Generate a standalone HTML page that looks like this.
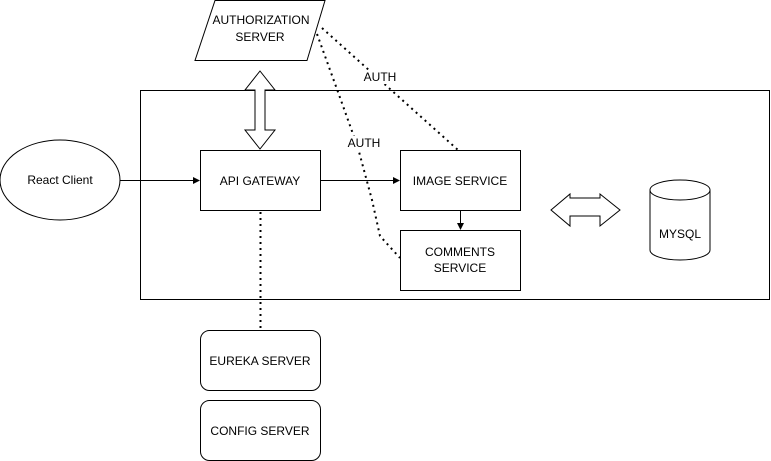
<!DOCTYPE html>
<html><head><style>body{margin:0;background:#fff}svg{display:block}text{font-family:"Liberation Sans",Arial,sans-serif;font-size:12px;fill:#000}</style></head>
<body>
<svg width="771" height="461" viewBox="0 0 771 461">
<g fill="none" stroke="#000" stroke-width="1">
<rect x="140.5" y="90.5" width="629" height="209" fill="#fff"/>
<polygon points="215,0.5 325,0.5 307,60.5 195,60.5" fill="#fff"/>
<polygon points="260,71 275,90 265,90 265,130 275,130 260,149 245,130 255,130 255,90 245,90" fill="#fff"/>
<polygon points="551,210 570,194 570,198 600,198 600,194 620,210 600,226 600,216 570,216 570,226" fill="#fff"/>
<ellipse cx="60" cy="180" rx="60" ry="40" fill="#fff"/>
<rect x="200.5" y="150.5" width="120" height="60" fill="#fff"/>
<rect x="400.5" y="150.5" width="120" height="60" fill="#fff"/>
<rect x="400.5" y="230.5" width="120" height="60" fill="#fff"/>
<rect x="200.5" y="330.5" width="120" height="60" rx="9" fill="#fff"/>
<rect x="200.5" y="400.5" width="120" height="60" rx="9" fill="#fff"/>
<path d="M650,190 L650,250 A30,10 0 0 0 710,250 L710,190 A30,10 0 0 0 650,190 A30,10 0 0 0 710,190" fill="#fff"/>
<line x1="120" y1="180.5" x2="193" y2="180.5"/>
<line x1="320" y1="180.5" x2="393" y2="180.5"/>
<line x1="460.5" y1="210" x2="460.5" y2="223"/>
<g stroke-dasharray="2,4" stroke-width="2">
<line x1="260.5" y1="212" x2="260.5" y2="330"/>
<line x1="322" y1="28" x2="458" y2="150"/>
<polyline points="317,34 338,92 358,148 372,200 380,236 400,258"/>
</g>
</g>
<g fill="#000">
<polygon points="200,180.5 193,177 193,184"/>
<polygon points="400,180.5 393,177 393,184"/>
<polygon points="460.5,230 457,223 464,223"/>
</g>
<rect x="364" y="70" width="32" height="14" fill="#fff"/>
<rect x="348" y="136" width="32" height="14" fill="#fff"/>
<text x="380" y="81" text-anchor="middle" font-size="11">AUTH</text>
<text x="364" y="147" text-anchor="middle" font-size="11">AUTH</text>
<g text-anchor="middle">
<text x="261" y="24">AUTHORIZATION</text>
<text x="260" y="41">SERVER</text>
<text x="60" y="184">React Client</text>
<text x="260" y="185">API GATEWAY</text>
<text x="460" y="185">IMAGE SERVICE</text>
<text x="460" y="256">COMMENTS</text>
<text x="460" y="272">SERVICE</text>
<text x="260" y="365">EUREKA SERVER</text>
<text x="260" y="435">CONFIG SERVER</text>
<text x="680" y="238">MYSQL</text>
</g>
</svg>
</body></html>
